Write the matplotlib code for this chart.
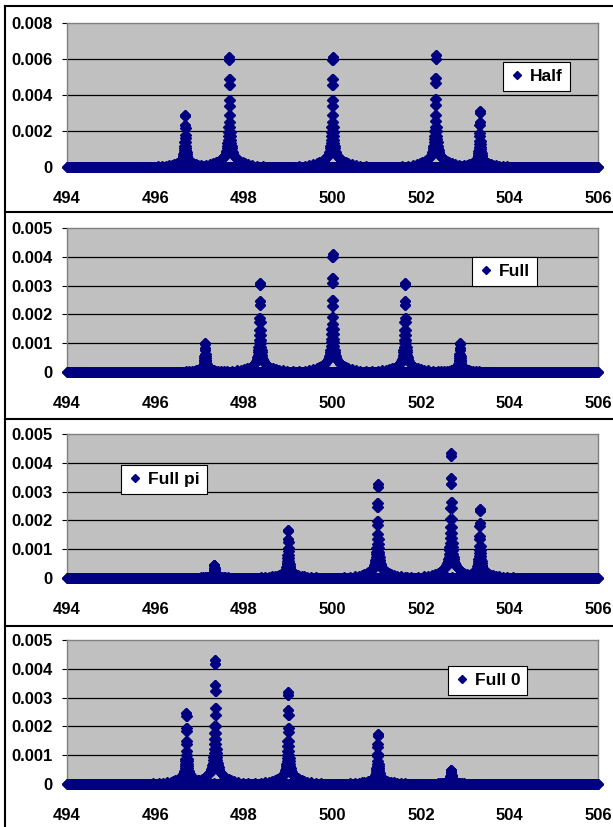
import numpy as np
import matplotlib
matplotlib.use("Agg")
import matplotlib.pyplot as plt
from matplotlib.lines import Line2D

plt.rcParams['font.family'] = ['Liberation Sans', 'DejaVu Sans']
plt.rcParams['font.weight'] = 'bold'
plt.rcParams['font.size'] = 12

# peak centres and peak heights
half_x = [496.67, 497.67, 500.0, 502.33, 503.33]
half_y = [0.0029, 0.0061, 0.0061, 0.0062, 0.0031]
full_x = [497.12, 498.36, 500.0, 501.64, 502.88]
full_y = [0.00102, 0.0031, 0.0041, 0.0031, 0.00102]
fullpi_x = [497.33, 499.0, 501.02, 502.68, 503.33]
fullpi_y = [0.00045, 0.00168, 0.00327, 0.00435, 0.0024]
full0_x = [496.70, 497.35, 499.0, 501.02, 502.68]
full0_y = [0.00245, 0.0043, 0.0032, 0.00173, 0.0005]

# shared peak profile: offset from centre and height relative to the top
shape_dx = [0, .002, .005, .008, .011, .014, .017, .020, .024, .028, .033, .038,
            .044, .050, .058, .066, .075, .085, .095, .11, .125, .14, .16, .18,
            .21, .25, .30, .36, .43, .52, .62, .75, 1.0]
shape_rel = [1, .97, .80, .75, .61, .56, .47, .41, .36, .32, .28, .25,
             .22, .19, .17, .15, .135, .12, .11, .10, .09, .085, .078, .07,
             .06, .05, .042, .032, .024, .017, .012, .008, .004]

names = ['Half', 'Full', 'Full pi', 'Full 0']
centres = [half_x, full_x, fullpi_x, full0_x]
heights = [half_y, full_y, fullpi_y, full0_y]
ymax = [0.008, 0.005, 0.005, 0.005]
ystep = [0.002, 0.001, 0.001, 0.001]

W, H = 613, 827
navy = '#000080'

fig = plt.figure(figsize=(W / 100, H / 100), dpi=100)

# panel frames
panel_top = [6, 212, 419, 626]
for t in panel_top:
    fig.add_artist(Line2D([5 / W, 1], [1 - t / H, 1 - t / H], transform=fig.transFigure,
                          color='black', lw=1.5))
fig.add_artist(Line2D([5 / W, 5 / W], [0, 1 - 6 / H], transform=fig.transFigure,
                      color='black', lw=1.5))

plot_top = [23, 228, 434, 640]
plot_h = 144
left, right = 67, 598
legend_pos = [(0.821, 0.729), (0.763, 0.799), (0.102, 0.783), (0.7175, 0.818)]

base_x = np.arange(494, 506.0001, 0.01)

for i in range(4):
    ax = fig.add_axes([left / W, 1 - (plot_top[i] + plot_h) / H,
                       (right - left) / W, plot_h / H])
    ax.set_facecolor('#c0c0c0')
    for s in ax.spines.values():
        s.set_color('#808080')
        s.set_linewidth(1)

    px, py = [], []
    for c, h in zip(centres[i], heights[i]):
        for dx, r in zip(shape_dx, shape_rel):
            px += [c - dx, c + dx]
            py += [h * r, h * r]

    ax.plot(base_x, np.zeros_like(base_x), ls='none', marker='D', ms=5.4,
            color=navy, clip_on=False, zorder=3)
    ax.plot(px, py, ls='none', marker='D', ms=5.4, color=navy, clip_on=False, zorder=4)

    yt = np.arange(0, ymax[i] + 1e-9, ystep[i])
    for v in yt[1:-1]:
        ax.axhline(v, color='black', lw=0.9, zorder=1)
    ax.set_xlim(494, 506)
    ax.set_ylim(0, ymax[i])
    ax.set_xticks(range(494, 507, 2))
    ax.set_yticks(yt)
    ax.set_yticklabels(['0' if v == 0 else '%.3f' % v for v in yt])
    ax.tick_params(axis='x', length=3.5, pad=14, color='black', labelsize=12)
    ax.tick_params(axis='y', length=3.5, pad=7, color='black', labelsize=12)

    handle = Line2D([], [], ls='none', marker='D', ms=4, color=navy)
    leg = ax.legend([handle], [names[i]], loc='upper left', bbox_to_anchor=legend_pos[i],
                    borderaxespad=0, fancybox=False, framealpha=1, edgecolor='black',
                    handlelength=0.8, handletextpad=0.35, borderpad=0.4,
                    prop={'weight': 'bold', 'size': 12.5})
    leg.get_frame().set_linewidth(0.8)
    leg.set_zorder(10)

fig.savefig('out.png', dpi=100)
